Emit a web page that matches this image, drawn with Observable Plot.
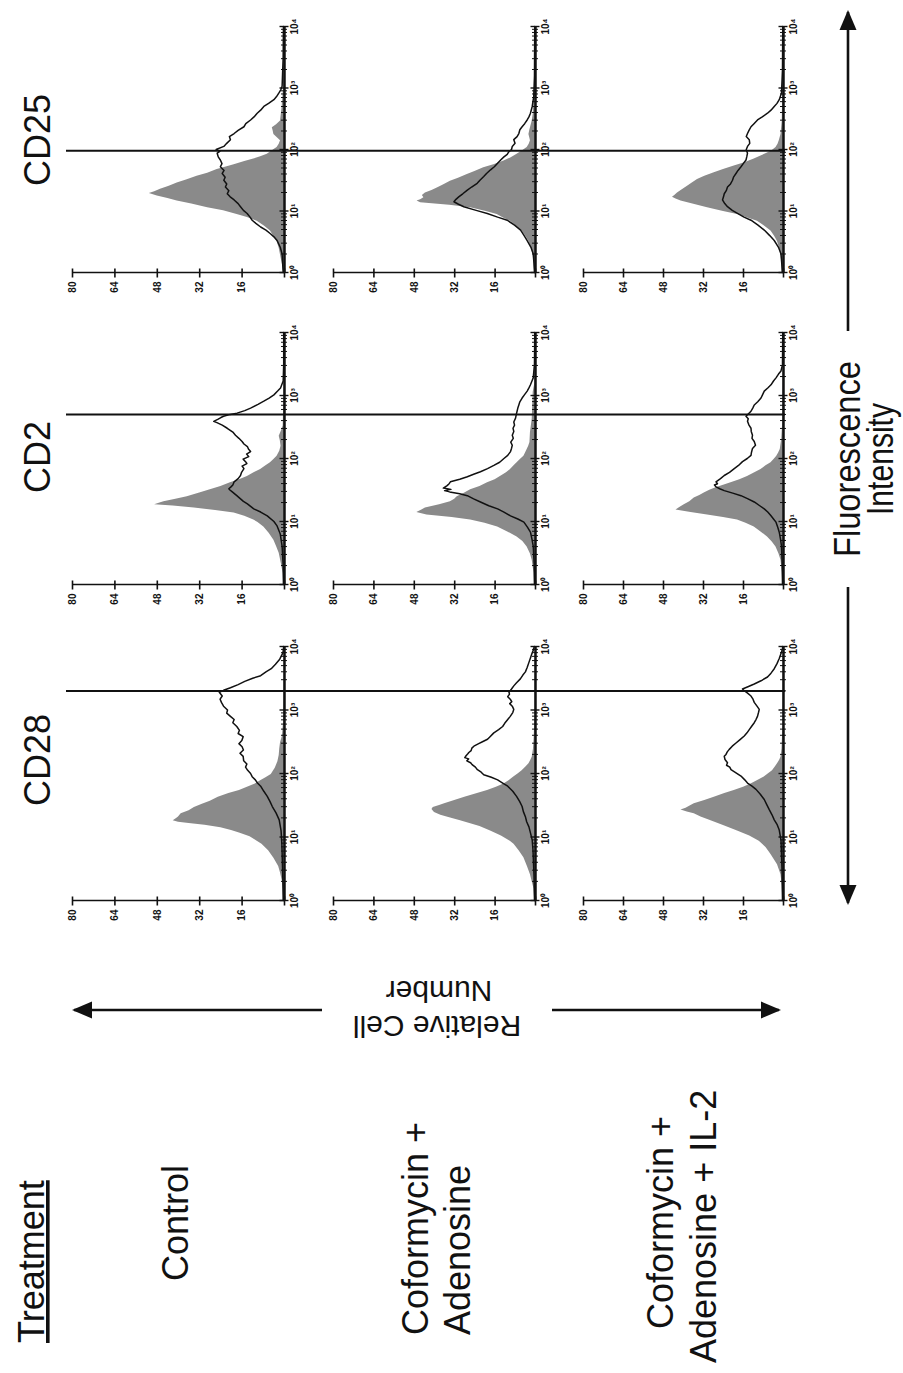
<!DOCTYPE html>
<html>
<head>
<meta charset="utf-8">
<script src="https://cdn.jsdelivr.net/npm/d3@7"></script>
<script src="https://cdn.jsdelivr.net/npm/@observablehq/plot@0.6"></script>
<style>
html, body { margin: 0; padding: 0; background: #fff; overflow: hidden; width: 903px; height: 1373px; }
#page { position: relative; width: 903px; height: 1373px; overflow: hidden; background: #fff; }
#fig { position: absolute; left: 0; top: 0; width: 1373px; height: 903px;
       transform-origin: 0 0; transform: translateY(1373px) rotate(-90deg); }
.panel { position: absolute; }
</style>
</head>
<body>
<div id="page"><div id="fig"></div></div>
<script>
// ---------------- DATA ----------------
const markers = ["CD28", "CD2", "CD25"];
const treatmentHeader = "Treatment";
const treatments = [["Control"], ["Coformycin +", "Adenosine"], ["Coformycin +", "Adenosine + IL-2"]];
const gateValues = [2000, 500, 95];            // fluorescence gate per marker
const countTicks = [0, 16, 32, 48, 64, 80];
const countLabels = [16, 32, 48, 64, 80];
const decadeTicks = [1, 10, 100, 1000, 10000];
const decadeLabels = ["10\u2070", "10\u00b9", "10\u00b2", "10\u00b3", "10\u2074"];
const yAxisTitle = ["Relative Cell", "Number"];
const xAxisTitle = ["Fluorescence", "Intensity"];

// [log10 fluorescence, relative cell number]
const fill_CD28_control = [[0,0.3],[0.2,0.5],[0.32,0.8],[0.45,1.5],[0.55,2.2],[0.68,4],[0.8,6],[0.9,8.5],[0.95,10.3],[1.02,13],[1.08,17],[1.12,20],[1.16,24],[1.2,30],[1.23,36],[1.25,40],[1.27,42],[1.3,41],[1.33,40],[1.38,39],[1.43,36],[1.48,34],[1.53,31],[1.58,28],[1.64,25],[1.7,21],[1.75,17],[1.8,14],[1.85,11],[1.9,9],[1.95,7],[2.0,5],[2.1,3.5],[2.2,2.5],[2.3,2],[2.4,1.8],[2.5,1.5],[2.6,0.8],[2.8,0.4],[3.2,0.2],[4,0.1]];
const line_CD28_control = [[0,0.5],[0.3,0.6],[0.6,0.8],[0.9,1],[1.1,1.3],[1.27,2],[1.38,3.2],[1.48,4.6],[1.56,5.5],[1.64,6.5],[1.72,7.8],[1.8,9],[1.85,10.2],[1.9,11],[1.95,12.2],[2.0,12.8],[2.05,13.9],[2.1,14.7],[2.15,14.2],[2.2,15.4],[2.27,15.6],[2.32,16.8],[2.37,15.5],[2.42,16],[2.47,17.2],[2.52,16.1],[2.58,15.6],[2.63,17.5],[2.68,17],[2.74,18],[2.8,19.5],[2.85,19],[2.9,20.4],[2.95,21.8],[3.0,21.5],[3.06,23],[3.12,23.8],[3.17,24.3],[3.22,23.5],[3.28,24.6],[3.31,23],[3.35,20.4],[3.4,17.5],[3.45,15],[3.5,12],[3.54,9],[3.6,7],[3.65,5],[3.72,3.4],[3.8,1.8],[3.9,0.6],[4,0.3]];
const fill_CD28_cof = [[0,0.3],[0.2,0.6],[0.42,2],[0.55,3.2],[0.69,4.6],[0.8,6.5],[0.9,8.5],[0.95,10],[1.03,13.5],[1.11,17.8],[1.18,22],[1.23,26],[1.27,29.7],[1.32,34],[1.36,37.5],[1.4,40],[1.45,41],[1.48,40.5],[1.51,38],[1.54,36],[1.59,32],[1.64,28],[1.7,23],[1.75,19],[1.8,15.5],[1.85,12.5],[1.9,10.5],[1.96,8.6],[2.01,6.8],[2.06,5.3],[2.12,3.8],[2.17,2.6],[2.22,1.9],[2.27,1.3],[2.4,0.8],[2.6,0.5],[3,0.2],[4,0.1]];
const line_CD28_cof = [[0,0.4],[0.4,0.6],[0.8,1],[0.95,1.3],[1.05,1.9],[1.16,2.6],[1.24,3.5],[1.32,4],[1.4,4.8],[1.48,5.3],[1.56,6.3],[1.64,7.5],[1.72,9],[1.8,11],[1.85,13],[1.9,15],[1.94,17.5],[1.98,20.5],[2.02,21.5],[2.06,23],[2.1,23.8],[2.14,25.1],[2.17,25.7],[2.2,27.2],[2.23,26.5],[2.25,28],[2.28,27.5],[2.31,26.8],[2.33,26.4],[2.36,25.5],[2.4,25.2],[2.43,24.4],[2.47,22.5],[2.5,21],[2.54,19],[2.58,18],[2.62,17],[2.64,16.5],[2.69,14.6],[2.74,13],[2.79,12.2],[2.85,11],[2.9,10],[2.96,9],[3.01,8.6],[3.06,9.2],[3.1,10.2],[3.13,9.4],[3.17,10],[3.21,11],[3.25,10.3],[3.28,10.5],[3.33,9.5],[3.38,8.6],[3.43,7.5],[3.49,6],[3.55,5],[3.6,4],[3.67,3.3],[3.75,2.6],[3.82,2],[3.9,1.3],[3.95,0.8],[4,0.5]];
const fill_CD28_il2 = [[0,0.3],[0.25,0.5],[0.42,1],[0.58,2.4],[0.74,5],[0.85,7],[0.95,9.7],[1.03,13.5],[1.11,18.4],[1.19,23.5],[1.27,29],[1.33,33],[1.38,35.7],[1.41,38.5],[1.44,41],[1.47,39],[1.51,37],[1.54,35.7],[1.59,31.5],[1.64,27.7],[1.7,23.5],[1.75,19.7],[1.8,16],[1.85,13],[1.9,10.5],[1.96,7.7],[2.01,6],[2.06,4.4],[2.12,3.3],[2.17,2.4],[2.22,1.6],[2.27,1],[2.4,0.6],[2.7,0.3],[3.2,0.2],[4,0.1]];
const line_CD28_il2 = [[0,0.4],[0.5,0.6],[0.95,1],[1.11,1.7],[1.2,2.6],[1.27,3.7],[1.35,4.6],[1.43,5.7],[1.51,6.7],[1.59,7.7],[1.67,9.2],[1.75,11],[1.8,12.6],[1.85,14.4],[1.9,15.5],[1.96,17],[2.01,19],[2.06,21],[2.1,21.5],[2.13,22.8],[2.17,22.4],[2.22,23.4],[2.27,23.7],[2.3,23],[2.34,22.5],[2.38,21.7],[2.43,20.5],[2.48,19],[2.53,17.5],[2.59,15.7],[2.64,14.6],[2.69,13.7],[2.74,12.8],[2.8,11.7],[2.85,11],[2.9,10.4],[2.96,10],[3.01,9.7],[3.06,10.6],[3.12,11.7],[3.17,12.2],[3.22,13],[3.27,14.5],[3.3,15.6],[3.33,16.4],[3.37,14],[3.41,11.7],[3.46,9],[3.52,6.4],[3.58,5],[3.65,3.7],[3.73,2.6],[3.81,1.7],[3.9,0.9],[3.97,0.4],[4,0.3]];

const fill_CD2_control = [[0,0.3],[0.19,0.5],[0.35,1.2],[0.51,2],[0.62,3],[0.72,4],[0.83,5.8],[0.93,7.8],[1.0,10],[1.04,11.6],[1.1,15],[1.15,19],[1.19,26],[1.23,34],[1.26,42],[1.28,49],[1.31,47],[1.33,45.5],[1.37,41],[1.41,36.7],[1.47,32],[1.52,28],[1.57,24],[1.63,20.4],[1.68,17],[1.73,14],[1.79,11.5],[1.84,9],[1.9,7],[1.95,5.3],[2.0,4],[2.05,2.8],[2.13,1.8],[2.21,1.3],[2.3,1.6],[2.37,2],[2.45,1.2],[2.53,0.5],[3,0.2],[4,0.1]];
const line_CD2_control = [[0,0.4],[0.3,0.5],[0.61,0.9],[0.8,1.6],[0.93,2.8],[1.0,4],[1.09,6.5],[1.15,9],[1.2,11.6],[1.24,12.8],[1.28,14],[1.32,15.5],[1.36,16.6],[1.41,18],[1.47,19.7],[1.5,20.6],[1.52,21],[1.55,20.2],[1.58,19.5],[1.63,19],[1.68,17.5],[1.73,16.6],[1.78,16.2],[1.84,15.3],[1.88,16],[1.92,14.2],[1.95,14.7],[1.99,15.6],[2.03,13.5],[2.07,14.3],[2.11,12.8],[2.15,13.6],[2.19,14],[2.23,15.3],[2.27,16],[2.32,17.2],[2.37,18.5],[2.42,19.5],[2.48,21.6],[2.53,23.5],[2.57,25.5],[2.59,26.7],[2.62,25.2],[2.65,24],[2.67,23],[2.7,20.5],[2.72,17.9],[2.76,15],[2.8,12.8],[2.86,10],[2.91,7.8],[2.96,5.8],[3.01,4],[3.07,2.6],[3.12,1.5],[3.23,0.5],[3.5,0.3],[4,0.3]];
const fill_CD2_cof = [[0,0.4],[0.2,0.6],[0.4,1.3],[0.5,2],[0.61,3.3],[0.7,5],[0.77,7.3],[0.85,11],[0.93,15],[0.99,20],[1.04,25.7],[1.08,33],[1.12,43],[1.16,47],[1.2,45],[1.23,43.6],[1.28,38],[1.33,33.7],[1.37,32],[1.41,31],[1.47,28],[1.52,25.7],[1.57,22],[1.63,19],[1.68,16],[1.73,13.9],[1.79,11.5],[1.84,9.9],[1.9,8.5],[1.95,7.3],[2.0,6],[2.05,4.6],[2.1,4],[2.16,3.3],[2.21,2.7],[2.27,2.2],[2.43,2],[2.64,1.3],[2.85,1.1],[3.07,0.9],[3.2,0.3],[4,0.1]];
const line_CD2_cof = [[0,0.4],[0.3,0.5],[0.61,0.9],[0.72,1.4],[0.83,2],[0.91,3.2],[0.99,4.6],[1.04,7],[1.09,9.9],[1.15,12.5],[1.2,15],[1.25,18.5],[1.31,21.8],[1.36,24.5],[1.41,27],[1.44,30],[1.47,34],[1.49,36],[1.51,33.5],[1.53,36.5],[1.57,35],[1.6,34.2],[1.63,33.7],[1.67,30],[1.71,27],[1.75,24.5],[1.79,21.8],[1.84,19],[1.89,16.5],[1.94,14.2],[2.0,12.5],[2.05,11],[2.11,9.9],[2.16,9.5],[2.21,9.2],[2.26,9.8],[2.32,8.8],[2.37,9.2],[2.43,8.6],[2.48,8.9],[2.53,8.3],[2.58,8.6],[2.64,7.9],[2.7,7.6],[2.75,7.3],[2.8,7],[2.85,6.6],[2.9,6.2],[2.96,5.3],[3.01,4.4],[3.07,3.3],[3.12,2.6],[3.17,2],[3.23,1.4],[3.28,0.9],[3.5,0.4],[4,0.3]];
const fill_CD2_il2 = [[0,0.3],[0.2,0.5],[0.4,1],[0.5,1.8],[0.61,3],[0.69,4.5],[0.77,6.4],[0.85,9],[0.93,11.7],[0.99,15],[1.04,18.4],[1.08,24],[1.12,30.4],[1.16,37],[1.2,43],[1.24,41.5],[1.28,39.7],[1.33,37.5],[1.39,35.7],[1.43,33.5],[1.47,31.7],[1.51,29.5],[1.55,27],[1.59,24],[1.63,21],[1.68,17.5],[1.73,14.4],[1.79,11.5],[1.84,9],[1.9,7],[1.95,5],[2.0,3.8],[2.05,2.7],[2.1,2],[2.16,1.3],[2.32,0.7],[2.6,0.3],[4,0.1]];
const line_CD2_il2 = [[0,0.4],[0.3,0.5],[0.61,0.8],[0.72,1.2],[0.83,1.7],[0.91,2.3],[0.99,3],[1.04,4],[1.09,5],[1.15,6.3],[1.2,7.7],[1.25,9.5],[1.31,11.7],[1.36,14.2],[1.41,17],[1.45,20.3],[1.49,23.7],[1.52,25.5],[1.55,27],[1.58,27.6],[1.6,26.4],[1.63,27],[1.68,25.2],[1.73,23.7],[1.78,21.6],[1.84,19.7],[1.89,18],[1.95,16.4],[2.0,14.5],[2.05,13],[2.1,12.8],[2.16,12.4],[2.21,11.2],[2.27,11.7],[2.32,12.6],[2.37,12.4],[2.43,12.9],[2.48,13],[2.53,13.8],[2.59,14.4],[2.63,14.1],[2.67,15],[2.71,14],[2.75,13],[2.8,12.3],[2.85,11.7],[2.9,10.3],[2.96,9],[3.01,8.4],[3.07,7.7],[3.12,6.3],[3.17,5],[3.23,4],[3.28,3],[3.34,2],[3.39,1],[3.49,0.4],[4,0.3]];

const fill_CD25_control = [[0,0.3],[0.15,0.8],[0.3,1.5],[0.41,2],[0.52,2.8],[0.6,4],[0.69,5.3],[0.77,7.5],[0.85,10.3],[0.91,14],[0.96,17.9],[1.02,23],[1.07,29],[1.13,35],[1.18,40.5],[1.22,44],[1.26,48],[1.3,51],[1.33,49],[1.37,46.8],[1.42,43.5],[1.47,40.5],[1.52,37],[1.58,33],[1.63,29],[1.69,25.4],[1.73,22],[1.77,19],[1.82,15],[1.86,11.6],[1.9,9],[1.94,6.5],[2.0,4.5],[2.05,2.8],[2.1,2],[2.16,1.5],[2.21,2.8],[2.26,4],[2.32,4.3],[2.37,4.6],[2.42,3],[2.48,1.5],[2.7,0.9],[3.0,0.4],[4,0.2]];
const line_CD25_control = [[0,0.5],[0.15,0.7],[0.3,0.9],[0.41,1.6],[0.52,2.8],[0.58,4],[0.63,5.3],[0.69,7],[0.74,9],[0.8,10.8],[0.85,12.2],[0.9,13],[0.96,14.1],[1.01,15.5],[1.07,16.6],[1.12,17.5],[1.18,19],[1.23,20.5],[1.28,21.6],[1.33,21],[1.39,22.3],[1.44,21.8],[1.5,22.9],[1.55,22.4],[1.61,23.5],[1.66,22.8],[1.72,24.2],[1.77,23.6],[1.83,24.2],[1.88,25],[1.94,25.4],[1.97,24.4],[2.0,25.8],[2.05,22.9],[2.1,21.8],[2.16,20.4],[2.21,20.8],[2.26,19],[2.31,17.5],[2.37,15.3],[2.42,14.6],[2.48,12.8],[2.53,11.5],[2.59,10.3],[2.64,9],[2.7,7.8],[2.75,6],[2.81,4],[2.86,3],[2.92,2.1],[2.97,1.4],[3.03,0.9],[3.5,0.5],[4,0.4]];
const fill_CD25_cof = [[0,0.3],[0.15,0.6],[0.3,0.9],[0.41,1.6],[0.52,2.6],[0.6,3.8],[0.69,5.3],[0.77,7.5],[0.85,9.9],[0.9,12.5],[0.96,15.2],[1.01,19.5],[1.07,25.7],[1.11,34],[1.15,45.5],[1.18,46.9],[1.2,45.5],[1.23,44.2],[1.27,44.8],[1.31,43.6],[1.35,41],[1.39,38.9],[1.44,36.5],[1.5,33.7],[1.55,30.5],[1.61,27],[1.66,24],[1.72,20.5],[1.77,16.5],[1.83,12.5],[1.88,9.8],[1.94,7.3],[2.0,5],[2.05,3.3],[2.1,2.5],[2.16,2],[2.21,2.3],[2.26,2.6],[2.32,2.3],[2.37,2],[2.48,1.3],[2.59,0.9],[3,0.4],[4,0.2]];
const line_CD25_cof = [[0,0.4],[0.15,0.6],[0.3,0.9],[0.41,1.8],[0.52,3.3],[0.6,4.5],[0.69,5.9],[0.77,8.3],[0.85,11.2],[0.9,15],[0.96,19.1],[1.01,23.5],[1.07,28.4],[1.11,30.5],[1.15,32.3],[1.19,31.5],[1.23,30.4],[1.28,28.8],[1.34,27],[1.39,25.3],[1.45,23.1],[1.5,22],[1.56,20.5],[1.61,19.4],[1.67,17.8],[1.72,16.3],[1.77,15.2],[1.83,13.8],[1.88,12.5],[1.92,11.2],[1.96,10.6],[2.0,9.5],[2.05,9.2],[2.1,8.1],[2.16,8.6],[2.21,7.3],[2.26,6.6],[2.32,6.2],[2.37,5.3],[2.42,4.3],[2.48,3.3],[2.53,2.6],[2.59,2],[2.7,1.3],[2.86,0.7],[3.2,0.4],[4,0.3]];
const fill_CD25_il2 = [[0,0.3],[0.15,0.6],[0.3,1],[0.41,1.6],[0.52,2.4],[0.6,3.5],[0.69,5],[0.77,7.5],[0.85,10.4],[0.9,14],[0.96,18.4],[1.01,24],[1.07,30.4],[1.12,35.5],[1.18,41],[1.21,43],[1.24,44.4],[1.27,43.5],[1.31,42.4],[1.36,40.5],[1.42,38.4],[1.47,36.5],[1.53,34.4],[1.58,31.5],[1.64,27.7],[1.69,24],[1.75,19.7],[1.8,15.5],[1.86,11.7],[1.91,9],[1.96,6.4],[2.0,4.5],[2.05,3],[2.1,2.2],[2.16,1.7],[2.26,1],[2.48,0.5],[3,0.3],[4,0.2]];
const line_CD25_il2 = [[0,0.5],[0.15,0.7],[0.3,1],[0.41,2],[0.52,3.7],[0.6,5.5],[0.69,7.7],[0.77,10.2],[0.85,13],[0.9,15.8],[0.96,18.4],[1.01,20.5],[1.07,22.4],[1.12,23.5],[1.18,24.4],[1.23,24],[1.28,23.7],[1.33,22.9],[1.39,22.4],[1.44,21.2],[1.5,20.4],[1.55,20],[1.61,19],[1.66,18.2],[1.72,17],[1.77,16.1],[1.83,15],[1.88,14.7],[1.94,14.4],[2.0,14.9],[2.05,14.4],[2.1,13.5],[2.16,13.7],[2.21,14.9],[2.26,14.4],[2.31,13.8],[2.37,13],[2.42,11.8],[2.48,10.4],[2.53,8.5],[2.59,6.4],[2.64,5],[2.7,3.7],[2.75,2.6],[2.81,1.7],[2.92,0.8],[3.3,0.4],[4,0.3]];

const fills = [
  [fill_CD28_control, fill_CD2_control, fill_CD25_control],
  [fill_CD28_cof, fill_CD2_cof, fill_CD25_cof],
  [fill_CD28_il2, fill_CD2_il2, fill_CD25_il2]
];
const lines = [
  [line_CD28_control, line_CD2_control, line_CD25_control],
  [line_CD28_cof, line_CD2_cof, line_CD25_cof],
  [line_CD28_il2, line_CD2_il2, line_CD25_il2]
];

// ---------------- LAYOUT (unrotated frame: 1373 x 903) ----------------
const colLayout = [{u0: 472, u1: 726}, {u0: 788, u1: 1040}, {u0: 1100, u1: 1346}];
const rowLayout = [{v80: 72, v0: 284}, {v80: 333, v0: 535}, {v80: 583, v0: 783}];
const gateTopV = 66, gateBottomV = 785;
const mL = 34, mR = 10, mT = 8, mB = 56;
const FILL = "#8a8a8a", INK = "#111";

const fig = document.getElementById("fig");

// minor ticks of the log axis
const minorTicks = [];
for (let d = 0; d < 4; d++) for (let k = 2; k <= 9; k++) minorTicks.push(k * 10 ** d);

rowLayout.forEach((r, ri) => {
  colLayout.forEach((c, ci) => {
    const fw = c.u1 - c.u0, fh = r.v0 - r.v80;
    const pxPerCount = fh / 80;
    const topV = ri === 0 ? gateTopV : r.v80;
    const botV = ri < rowLayout.length - 1 ? rowLayout[ri + 1].v80 : gateBottomV;
    const gY2 = (r.v0 - topV) / pxPerCount;
    const gY1 = (r.v0 - botV) / pxPerCount;
    const tk = 3 / pxPerCount;            // tick half-length in counts
    const tkMaj = 4.5 / pxPerCount;
    const xt = 10 ** (4.5 / (fw / 4));    // horizontal tick half-length in log units
    const chart = Plot.plot({
      width: fw + mL + mR,
      height: fh + mT + mB,
      marginLeft: mL, marginRight: mR, marginTop: mT, marginBottom: mB,
      x: {type: "log", domain: [1, 10000]},
      y: {domain: [0, 80]},
      style: {background: "transparent", overflow: "visible", maxWidth: "none",
              fontFamily: "'Liberation Sans', Arial, sans-serif"},
      marks: [
        Plot.areaY(fills[ri][ci], {x: d => 10 ** d[0], y: d => d[1], fill: FILL}),
        Plot.lineY(lines[ri][ci], {x: d => 10 ** d[0], y: d => d[1], stroke: INK, strokeWidth: 1.5}),
        Plot.ruleY([0], {x1: 1, x2: 10000, stroke: INK, strokeWidth: 2.5}),
        Plot.ruleX(minorTicks, {x: d => d, y1: -tk, y2: tk, stroke: INK, strokeWidth: 1}),
        Plot.ruleX(decadeTicks, {x: d => d, y1: -tkMaj, y2: tkMaj, stroke: INK, strokeWidth: 1.4}),
        Plot.ruleX([1], {y1: 0, y2: 80, stroke: INK, strokeWidth: 1.6}),
        Plot.ruleY(countTicks, {y: d => d, x1: 1 / xt, x2: xt, stroke: INK, strokeWidth: 1.6}),
        Plot.axisY({ticks: countLabels, tickSize: 0, tickPadding: 9, label: null,
                    fontSize: 10, fontWeight: "bold", fill: INK}),
        Plot.axisX({ticks: decadeTicks, tickFormat: d => decadeLabels[decadeTicks.indexOf(d)],
                    tickSize: 0, tickPadding: 6, label: null, fontSize: 10, fontWeight: "bold", fill: INK}),
        Plot.ruleX([gateValues[ci]], {y1: gY1, y2: gY2, stroke: INK, strokeWidth: 2})
      ]
    });
    const div = document.createElement("div");
    div.className = "panel";
    div.style.left = (c.u0 - mL) + "px";
    div.style.top = (r.v80 - mT) + "px";
    div.appendChild(chart);
    fig.appendChild(div);
  });
});

// ---------------- ANNOTATIONS ----------------
const svg = d3.select(fig).insert("svg", ":first-child")
  .attr("width", 1373).attr("height", 903)
  .style("position", "absolute").style("left", "0px").style("top", "0px");

const BIG = "'Liberation Sans', Arial, Helvetica, sans-serif";
function txt(s, u, v, size, anchor, opts = {}) {
  const t = svg.append("text").attr("x", u).attr("y", v).text(s)
    .attr("font-family", BIG).attr("font-size", size)
    .attr("text-anchor", anchor).attr("fill", INK);
  if (opts.rotate) t.attr("transform", `rotate(${opts.rotate},${u},${v})`);
  if (opts.underline) t.style("text-decoration", "underline");
  if (opts.len) t.attr("textLength", opts.len).attr("lengthAdjust", "spacingAndGlyphs");
  return t;
}

// column headers
const headerU = [613, 916, 1233];
markers.forEach((m, i) => txt(m, headerU[i], 50, 36, "middle"));

// treatment header and row labels
txt(treatmentHeader, 30, 44, 36, "start", {underline: true});
const rowText = [
  [{u: 92, v: 188}],
  [{u: 38, v: 428}, {u: 38, v: 470}],
  [{u: 44, v: 673}, {u: 10, v: 716}]
];
treatments.forEach((lines2, i) => lines2.forEach((s, j) => txt(s, rowText[i][j].u, rowText[i][j].v, 36, "start")));

// arrows
function arrowSeg(x1, y1, x2, y2, head) {
  svg.append("line").attr("x1", x1).attr("y1", y1).attr("x2", x2).attr("y2", y2)
    .attr("stroke", INK).attr("stroke-width", 2.6);
  if (head) {
    const dx = x2 - x1, dy = y2 - y1, L = Math.hypot(dx, dy), ux = dx / L, uy = dy / L;
    const hl = 18, hw = 8.5;
    const bx = x2 - ux * hl, by = y2 - uy * hl;
    svg.append("path")
      .attr("d", `M${x2 + ux * 2},${y2 + uy * 2}L${bx - uy * hw},${by + ux * hw}L${bx + uy * hw},${by - ux * hw}Z`)
      .attr("fill", INK);
  }
}
// Relative cell number (vertical in unrotated frame)
arrowSeg(363, 322, 363, 74, true);
arrowSeg(363, 552, 363, 779, true);
txt(yAxisTitle[0], 357, 437, 30, "middle", {rotate: -90});
txt(yAxisTitle[1], 392, 439, 30, "middle", {rotate: -90});
// Fluorescence intensity (horizontal in unrotated frame)
arrowSeg(786, 848, 470, 848, true);
arrowSeg(1042, 848, 1361, 848, true);
txt(xAxisTitle[0], 914, 860, 36, "middle", {len: 196});
txt(xAxisTitle[1], 914, 893, 36, "middle", {len: 112});
</script>
</body>
</html>
